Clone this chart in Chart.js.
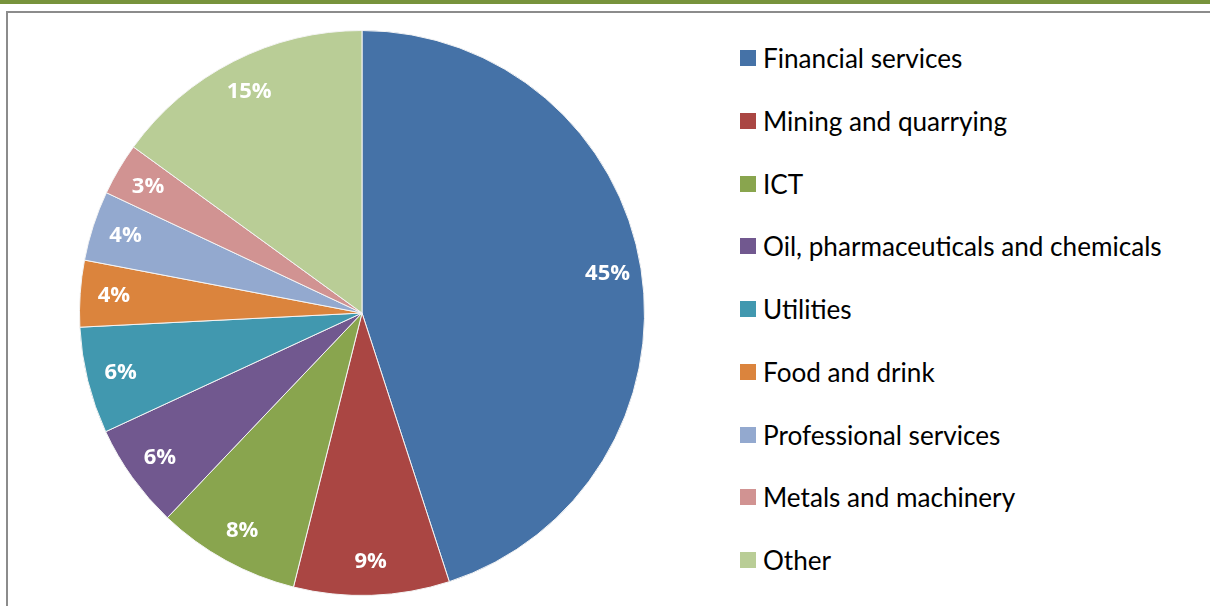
<!DOCTYPE html>
<html>
<head>
<meta charset="utf-8">
<script src="https://cdn.jsdelivr.net/npm/chart.js@4.4.1/dist/chart.umd.min.js"></script>
<style>
  html, body { margin: 0; padding: 0; background: #fff; width: 1210px; height: 606px; overflow: hidden; }
  #topbar { position: absolute; left: 0; top: 0; width: 1210px; height: 4px; background: #77933c; }
  #frame { position: absolute; left: 6px; top: 11px; width: 1220px; height: 620px; border-left: 2px solid #8c8c8c; border-top: 2px solid #8c8c8c; }
  #pieWrap { position: absolute; left: 79px; top: 30px; width: 566px; height: 566px; }
  #legend { position: absolute; left: 740px; top: 0; font-family: 'Lato', sans-serif; color: #000; }
  .item { position: absolute; left: 0; white-space: nowrap; display: flex; align-items: center; }
  .box { width: 16px; height: 16px; margin-right: 7px; }
</style>
</head>
<body>
<div id="topbar"></div>
<div id="frame"></div>
<div id="pieWrap"><canvas id="pieChart" width="566" height="566"></canvas></div>
<div id="legend"></div>
<script>
    const sectors = ["Financial services", "Mining and quarrying", "ICT", "Oil, pharmaceuticals and chemicals",
        "Utilities", "Food and drink", "Professional services", "Metals and machinery", "Other"];
    const shares = [45.0, 8.9, 8.2, 6.0, 6.1, 3.8, 4.0, 3.0, 15.0];
    const sliceColors = ['#4572a7', '#aa4643', '#89a54e', '#71588f', '#4198af', '#db843d', '#93a9cf', '#d19392', '#b9cd96'];

    // percentage labels drawn inside each slice
    const sliceLabels = {
        id: 'sliceLabels',
        afterDatasetsDraw(chart) {
            const ctx = chart.ctx;
            const meta = chart.getDatasetMeta(0);
            ctx.save();
            ctx.fillStyle = '#ffffff';
            ctx.font = "bold 22px 'Open Sans', sans-serif";
            ctx.textAlign = 'center';
            ctx.textBaseline = 'middle';
            meta.data.forEach((arc, i) => {
                const p = arc.getProps(['x', 'y', 'startAngle', 'endAngle', 'outerRadius'], true);
                const mid = (p.startAngle + p.endAngle) / 2;
                const r = p.outerRadius * 0.88;
                ctx.fillText(Math.round(shares[i]) + '%', p.x + Math.cos(mid) * r, p.y + Math.sin(mid) * r);
            });
            ctx.restore();
        }
    };

    new Chart(document.getElementById('pieChart').getContext('2d'), {
        type: 'pie',
        data: {
            labels: sectors,
            datasets: [{
                data: shares,
                backgroundColor: sliceColors,
                borderColor: '#f4f4f4',
                borderWidth: 1
            }]
        },
        options: {
            responsive: false,
            animation: false,
            layout: { padding: 0 },
            plugins: {
                legend: { display: false },
                tooltip: { enabled: false }
            }
        },
        plugins: [sliceLabels]
    });

    // legend at the right, sized so the longest entry spans ~400px
    const legendEl = document.getElementById('legend');
    const mctx = document.createElement('canvas').getContext('2d');
    let fontSize = 24;
    mctx.font = fontSize + "px 'Lato'";
    const longest = Math.max(...sectors.map(s => mctx.measureText(s).width));
    fontSize = Math.min(27, fontSize * 399 / longest);
    sectors.forEach((name, i) => {
        const row = document.createElement('div');
        row.className = 'item';
        row.style.top = (59 + i * 62.75 - 16) + 'px';
        row.style.height = '30px';
        row.style.fontSize = fontSize + 'px';
        row.innerHTML = '<span class="box" style="background:' + sliceColors[i] + '"></span><span>' + name + '</span>';
        legendEl.appendChild(row);
    });
</script>
</body>
</html>
